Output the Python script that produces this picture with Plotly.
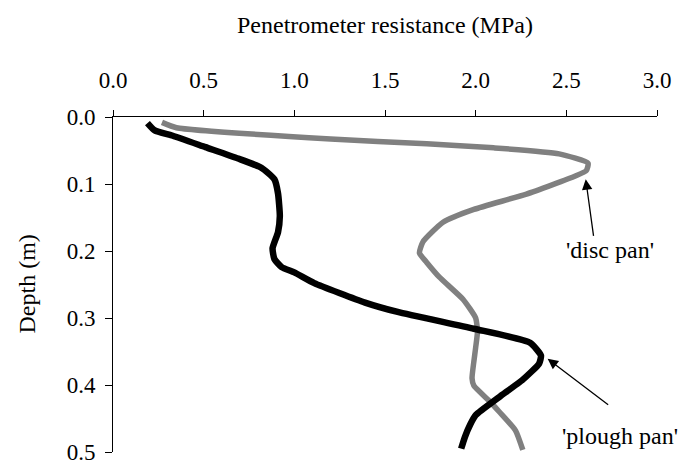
import plotly.graph_objects as go

# Disc-pan profile (grey)
disc_depth = [0.008, 0.016, 0.033, 0.040, 0.046, 0.055, 0.069, 0.080, 0.088, 0.115, 0.138,
              0.157, 0.186, 0.203, 0.217, 0.239, 0.272, 0.300, 0.320, 0.344, 0.365, 0.390,
              0.401, 0.425, 0.440, 0.468, 0.497]
disc_res = [0.27, 0.35, 1.20, 1.73, 2.10, 2.46, 2.62, 2.61, 2.55, 2.28, 1.99,
            1.82, 1.71, 1.69, 1.73, 1.80, 1.93, 2.00, 2.01, 2.00, 1.99, 1.98,
            1.99, 2.08, 2.13, 2.22, 2.26]

# Plough-pan profile (black)
plough_depth = [0.009, 0.020, 0.028, 0.045, 0.062, 0.076, 0.093, 0.114, 0.148, 0.172, 0.196,
                0.212, 0.224, 0.232, 0.248, 0.277, 0.291, 0.316, 0.337, 0.356, 0.368, 0.392,
                0.418, 0.445, 0.459, 0.478, 0.495]
plough_res = [0.19, 0.23, 0.33, 0.51, 0.69, 0.82, 0.89, 0.91, 0.92, 0.91, 0.88,
              0.89, 0.93, 1.00, 1.11, 1.39, 1.57, 1.99, 2.30, 2.36, 2.35, 2.26,
              2.13, 2.00, 1.97, 1.94, 1.92]

x_ticks = [0.0, 0.5, 1.0, 1.5, 2.0, 2.5, 3.0]
y_ticks = [0.0, 0.1, 0.2, 0.3, 0.4, 0.5]

FONT = "Liberation Serif, Times New Roman, serif"
FS = 23
TFS = 24

fig = go.Figure()
fig.add_trace(go.Scatter(x=disc_res, y=disc_depth, mode="lines",
                         line=dict(color="#808080", width=5.5, shape="spline", smoothing=0.5),
                         showlegend=False, cliponaxis=False))
fig.add_trace(go.Scatter(x=plough_res, y=plough_depth, mode="lines",
                         line=dict(color="#000000", width=6.5, shape="spline", smoothing=0.5),
                         showlegend=False, cliponaxis=False))

fig.update_layout(
    width=680, height=474,
    margin=dict(l=113, r=18, t=117, b=9),
    paper_bgcolor="white", plot_bgcolor="white",
    font=dict(family=FONT, size=FS, color="black"),
    xaxis=dict(side="top", range=[0, 3.0], tickvals=x_ticks, tickformat=".1f",
               ticks="outside", ticklen=6, tickwidth=1, tickcolor="black",
               showline=True, linecolor="black", linewidth=1, showgrid=False,
               zeroline=False, ticklabelstandoff=13, ticklabeloverflow="allow",
               tickfont=dict(family=FONT, size=FS)),
    yaxis=dict(range=[0.5, 0.0], tickvals=y_ticks, tickformat=".1f",
               ticks="outside", ticklen=7, tickwidth=1, tickcolor="black",
               showline=True, linecolor="black", linewidth=1, showgrid=False,
               zeroline=False, ticklabelstandoff=5, ticklabeloverflow="allow",
               tickfont=dict(family=FONT, size=FS)),
    annotations=[
        dict(text="Penetrometer resistance (MPa)", xref="paper", yref="paper",
             x=0.5, y=1, yshift=92, showarrow=False, xanchor="center", yanchor="middle",
             font=dict(family=FONT, size=TFS)),
        dict(text="Depth (m)", xref="paper", yref="paper", x=0, y=0.5,
             xshift=-87, showarrow=False, textangle=-90, xanchor="center", yanchor="middle",
             font=dict(family=FONT, size=TFS)),
        dict(text="", x=2.607, y=0.093, xref="x", yref="y", ax=8, ay=58,
             showarrow=True, arrowhead=2, arrowsize=1.6, arrowwidth=1.3, arrowcolor="black"),
        dict(text="'disc pan'", x=2.743, y=0.198, xref="x", yref="y", showarrow=False,
             xanchor="center", yanchor="middle", font=dict(family=FONT, size=TFS)),
        dict(text="", x=2.397, y=0.361, xref="x", yref="y", ax=62, ay=47,
             showarrow=True, arrowhead=2, arrowsize=1.6, arrowwidth=1.3, arrowcolor="black"),
        dict(text="'plough pan'", x=2.465, y=0.476, xref="x", yref="y", showarrow=False,
             xanchor="left", yanchor="middle", font=dict(family=FONT, size=TFS)),
    ],
)

fig.write_html(
    "out.html",
    config={"displayModeBar": False, "staticPlot": True},
    post_script="document.body.style.margin='0';document.body.style.overflow='hidden';",
)
